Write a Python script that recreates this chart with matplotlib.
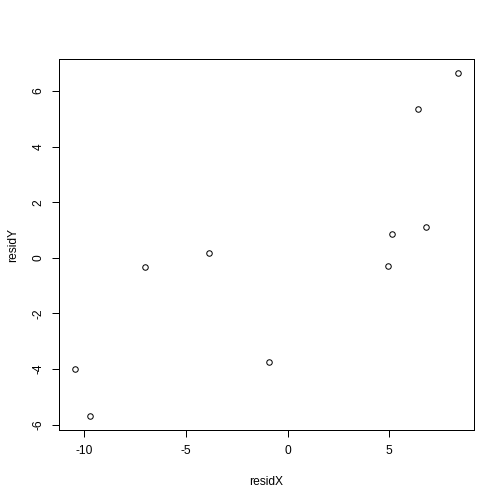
import matplotlib
matplotlib.use("Agg")
import matplotlib.pyplot as plt

residX = [-10.46, -9.70, -6.98, -3.84, -0.93, 4.95, 5.15, 6.81, 6.42, 8.38]
residY = [-4.01, -5.70, -0.34, 0.16, -3.76, -0.28, 0.87, 1.10, 5.36, 6.65]
xticks = [-10, -5, 0, 5]
yticks = [-6, -4, -2, 0, 2, 4, 6]

plt.rcParams['font.family'] = ['Liberation Sans', 'DejaVu Sans']
plt.rcParams['font.size'] = 12

fig = plt.figure(figsize=(7, 7), dpi=72)
ax = fig.add_axes([59.3 / 504, 74 / 504, (473.5 - 59.3) / 504, (430 - 59.3) / 504])

ax.plot(residX, residY, linestyle='none', marker='o', markersize=5.5,
        markerfacecolor='none', markeredgecolor='black', markeredgewidth=1)

# R-style 4% padding on each side
xr = max(residX) - min(residX)
yr = max(residY) - min(residY)
ax.set_xlim(min(residX) - 0.04 * xr, max(residX) + 0.04 * xr)
ax.set_ylim(min(residY) - 0.04 * yr, max(residY) + 0.04 * yr)

ax.set_xticks(xticks)
ax.set_xticklabels([str(t) for t in xticks])
ax.set_yticks(yticks)
ax.set_yticklabels([str(t) for t in yticks], rotation=90, va='center')
ax.tick_params(length=7, width=1, pad=8, labelsize=12)

for s in ax.spines.values():
    s.set_linewidth(1)

ax.set_xlabel('residX', labelpad=19)
ax.set_ylabel('residY', labelpad=13)

fig.savefig('out.png', dpi=72)
